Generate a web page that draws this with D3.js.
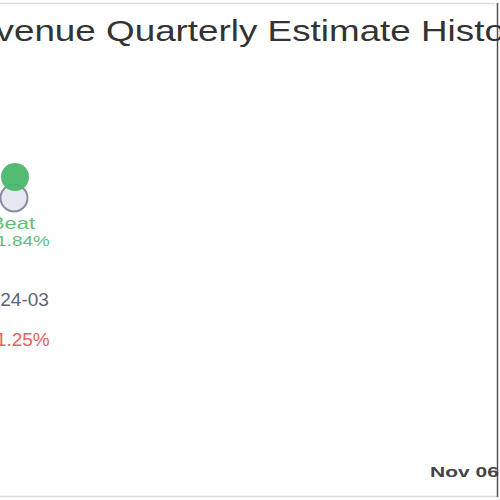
<!DOCTYPE html>
<html>
<head>
<meta charset="utf-8">
<script src="https://cdn.jsdelivr.net/npm/d3@7"></script>
<style>
  html, body { margin: 0; padding: 0; background: #fff; }
  svg { display: block; font-family: "Liberation Sans", Arial, sans-serif; }
</style>
</head>
<body>
<svg id="chart" width="500" height="500"></svg>
<script>
// Chart data
const quarters = ["2024-03"];
const estimates = [1.52];     // consensus revenue estimate
const actuals = [1.548];      // reported revenue
const results = ["Beat"];
const surprises = ["+11.84%"];
const growth = ["-11.25%"];
const titleText = "Revenue Quarterly Estimate History";
const stampText = "Nov 06";

const width = 500, height = 500;
const svg = d3.select("#chart");

// Frame
svg.append("line").attr("x1", 0).attr("x2", 495).attr("y1", 3.5).attr("y2", 3.5)
    .attr("stroke", "#dcdcdc").attr("stroke-width", 1.5);
svg.append("line").attr("x1", 0).attr("x2", 497).attr("y1", 496.5).attr("y2", 496.5)
    .attr("stroke", "#dcdcdc").attr("stroke-width", 1.5);
svg.append("line").attr("x1", 497.5).attr("x2", 497.5).attr("y1", 3).attr("y2", 497)
    .attr("stroke", "#555").attr("stroke-width", 1.5);

// Title (wide face)
svg.append("g").attr("transform", "translate(242,41) scale(1.27,1)")
  .append("text")
    .attr("text-anchor", "middle")
    .attr("font-size", 29)
    .attr("fill", "#333")
    .text(titleText);

// Scales
const x = d3.scalePoint().domain(quarters).range([14, 470]).align(0);
const y = d3.scaleLinear().domain([1.4, 1.6]).range([288, 138]);

const col = svg.selectAll("g.quarter")
  .data(quarters.map((q, i) => ({
      q, est: estimates[i], act: actuals[i],
      res: results[i], sur: surprises[i], gr: growth[i]
  })))
  .join("g").attr("class", "quarter")
    .attr("transform", d => `translate(${x(d.q)},0)`);

// estimate circle
col.append("circle")
    .attr("cy", d => y(d.est)).attr("r", 13.5)
    .attr("fill", "#e5e8f0").attr("stroke", "#878ca6").attr("stroke-width", 2);

// actual circle
col.append("circle")
    .attr("cx", 1)
    .attr("cy", d => y(d.act)).attr("r", 14)
    .attr("fill", "#4bb86a").attr("fill-opacity", 0.95);

// result + surprise, slightly widened
col.append("g").attr("transform", d => `translate(-1.5,${y(d.est) + 31}) scale(1.37,1)`)
  .append("text")
    .attr("text-anchor", "middle").attr("font-size", 16).attr("fill", "#5cbf77")
    .text(d => d.res);
col.append("g").attr("transform", d => `translate(-1,${y(d.est) + 48}) scale(1.3,1)`)
  .append("text")
    .attr("text-anchor", "middle").attr("font-size", 14.5).attr("fill", "#5cbf77")
    .text(d => d.sur);

col.append("text")
    .attr("text-anchor", "middle").attr("font-size", 19).attr("fill", "#5f6478")
    .attr("y", d => y(d.est) + 108)
    .text(d => d.q);
col.append("text")
    .attr("x", 1)
    .attr("text-anchor", "middle").attr("font-size", 19).attr("fill", "#e8605e")
    .attr("y", d => y(d.est) + 148)
    .text(d => d.gr);

// date stamp
svg.append("g").attr("transform", "translate(430,477) scale(1.4,1)")
  .append("text")
    .attr("font-size", 15)
    .attr("font-weight", "bold")
    .attr("fill", "#444")
    .text(stampText);
</script>
</body>
</html>
